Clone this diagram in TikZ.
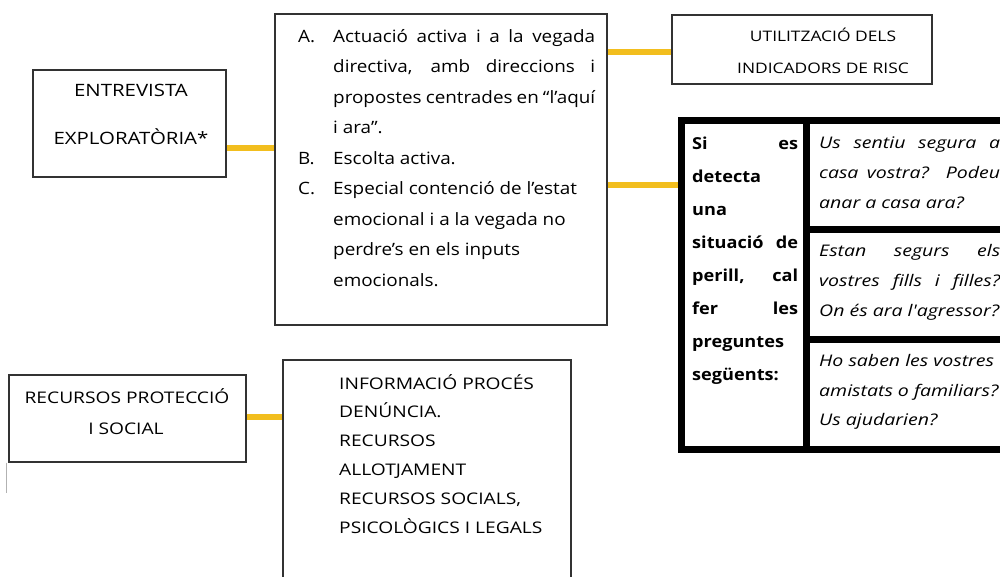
\documentclass[tikz,border=0pt]{standalone}
\usepackage{fontspec}
\setmainfont[FakeStretch=1.11]{Open Sans}
\newfontfamily\capsfont[FakeStretch=1.2]{Open Sans}
\newfontfamily\leftfont[FakeStretch=1.1]{Open Sans}
\newfontfamily\rightfont[FakeStretch=1.22]{Open Sans}
\usetikzlibrary{calc}
\definecolor{gold}{RGB}{242,190,30}
\definecolor{boxline}{RGB}{50,50,50}
\tikzset{
  plainbox/.style={draw=boxline, line width=1.4pt, rectangle, inner sep=0pt},
  conn/.style={draw=gold, line width=6pt},
  textbase/.style={inner sep=0pt, yshift=-3.5pt},
  midtxt/.style={textbase, anchor=mid west, font=\fontsize{17}{20}\selectfont},
  captxt/.style={textbase, anchor=mid, font=\capsfont\fontsize{16}{18}\selectfont},
  capleft/.style={textbase, anchor=mid west, font=\capsfont\fontsize{16}{18}\selectfont},
  lefttxt/.style={textbase, anchor=mid west, font=\leftfont\bfseries\fontsize{16.5}{18}\selectfont},
  righttxt/.style={textbase, anchor=mid west, font=\rightfont\itshape\fontsize{16}{18}\selectfont},
  tbl/.style={draw=black, line width=7pt, rectangle, inner sep=0pt}
}
\begin{document}
\begin{tikzpicture}[x=1pt,y=-1pt]
\useasboundingbox (0,0) rectangle (1000,577);
\fill[white] (0,0) rectangle (1000,577);

% boxes
\node[plainbox, minimum width=193pt, minimum height=107pt] (entrevista) at (129.5,123.5) {};
\node[plainbox, minimum width=332pt, minimum height=311pt] (middle) at (441,169.5) {};
\node[plainbox, minimum width=260pt, minimum height=69pt] (util) at (802,49.5) {};
\node[plainbox, minimum width=237pt, minimum height=87pt] (recursos) at (127.5,418.5) {};
\node[plainbox, minimum width=288pt, minimum height=240pt] (info) at (427,480) {};

% connectors
\coordinate (c1) at ([yshift=-24.5pt]entrevista.east);
\draw[conn] (c1) -- (c1 -| middle.west);
\coordinate (c2) at ([yshift=-2.5pt]util.west);
\draw[conn] (c2 -| middle.east) -- (c2);
\node[tbl, minimum width=328.5pt, minimum height=328.5pt] (table) at (845.75,284.75) {};
\coordinate (c3) at ([yshift=99.25pt]table.west);
\draw[conn] (c3 -| middle.east) -- (c3);
\coordinate (c4) at ([yshift=1.5pt]recursos.east);
\draw[conn] (c4) -- (c4 -| info.west);

% table dividers
\coordinate (vd) at (806.5,120.5);
\draw[line width=7pt] (vd) -- (vd |- table.south);
\draw[line width=7pt] (806.5,229.5) -- (1015,229.5);
\draw[line width=7pt] (806.5,339) -- (1015,339);
\node[tbl, minimum width=328.5pt, minimum height=328.5pt] at (table) {};

% grey artefact
\draw[gray!60, line width=0.8pt] ([xshift=-2pt]recursos.south west) -- ++(0,30);

% entrevista text
\node[captxt, font=\capsfont\fontsize{17}{20}\selectfont] (e1) at (131,90) {ENTREVISTA};
\node[captxt, font=\capsfont\fontsize{17}{20}\selectfont] (e2) at (131,138) {EXPLORATÒRIA*};

% utilitzacio text
\node[captxt, font=\capsfont\fontsize{14.5}{16}\selectfont] (u1) at (823,35) {UTILITZACIÓ DELS};
\node[captxt, font=\capsfont\fontsize{14.5}{16}\selectfont] (u2) at (823,67) {INDICADORS DE RISC};

% recursos text
\node[captxt] (p1) at (127,397) {RECURSOS PROTECCIÓ};
\node[captxt] (p2) at (126,428) {I SOCIAL};

% info text
\node[capleft] (i1) at (339,383) {INFORMACIÓ PROCÉS};
\node[capleft] (i2) at (339,411.8) {DENÚNCIA.};
\node[capleft] (i3) at (339,440.6) {RECURSOS};
\node[capleft] (i4) at (339,469.4) {ALLOTJAMENT};
\node[capleft] (i5) at (339,498.2) {RECURSOS SOCIALS,};
\node[capleft] (i6) at (339,527) {PSICOLÒGICS I LEGALS};

% middle text
\node[midtxt] (la) at (298,36) {A.};
\node[midtxt] (lb) at (298,158) {B.};
\node[midtxt] (lc) at (298,188.5) {C.};
\node[midtxt] (m1) at (333,36) {\makebox[262pt][s]{Actuació activa i a la vegada}};
\node[midtxt] (m2) at (333,66.5) {\makebox[262pt][s]{directiva, amb direccions i}};
\node[midtxt] (m3) at (333,97) {\makebox[262pt][s]{propostes centrades en “l'aquí}};
\node[midtxt] (m4) at (333,127.5) {i ara”.};
\node[midtxt] (m5) at (333,158) {Escolta activa.};
\node[midtxt] (m6) at (333,188.5) {Especial contenció de l'estat};
\node[midtxt] (m7) at (333,219) {emocional i a la vegada no};
\node[midtxt] (m8) at (333,249.5) {perdre's en els inputs};
\node[midtxt] (m9) at (333,280) {emocionals.};

% table left column
\node[lefttxt] (t1) at (692,143) {\makebox[106pt][s]{Si es}};
\node[lefttxt] (t2) at (692,176) {detecta};
\node[lefttxt] (t3) at (692,209) {una};
\node[lefttxt] (t4) at (692,242) {\makebox[106pt][s]{situació de}};
\node[lefttxt] (t5) at (692,275) {\makebox[106pt][s]{perill, cal}};
\node[lefttxt] (t6) at (692,308) {\makebox[106pt][s]{fer les}};
\node[lefttxt] (t7) at (692,341) {preguntes};
\node[lefttxt] (t8) at (692,374) {següents:};

% table right cells
\node[righttxt] (r1) at (819,142) {\makebox[181pt][s]{Us sentiu segura a}};
\node[righttxt] (r2) at (819,172) {\makebox[181pt][s]{casa vostra? Podeu}};
\node[righttxt] (r3) at (819,202) {anar a casa ara?};
\node[righttxt] (r4) at (819,250) {\makebox[181pt][s]{Estan segurs els}};
\node[righttxt] (r5) at (819,280) {\makebox[181pt][s]{vostres fills i filles?}};
\node[righttxt] (r6) at (819,310) {On és ara l'agressor?};
\node[righttxt] (r7) at (819,360) {Ho saben les vostres};
\node[righttxt] (r8) at (819,390) {amistats o familiars?};
\node[righttxt] (r9) at (819,419) {Us ajudarien?};
\end{tikzpicture}
\end{document}
